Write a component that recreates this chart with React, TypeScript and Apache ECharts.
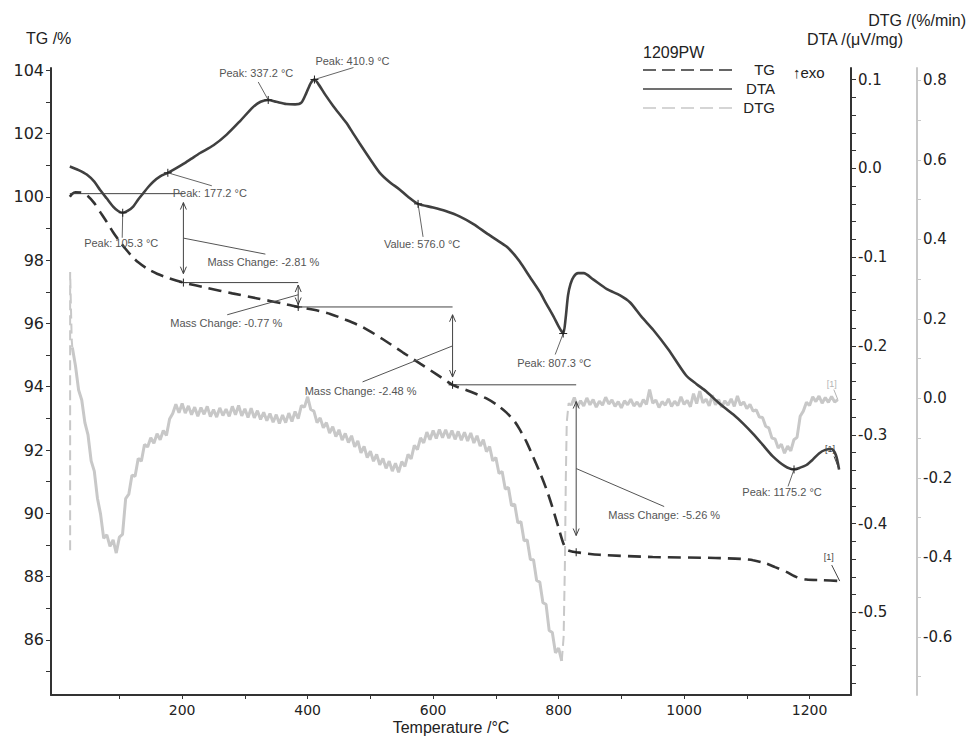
import React, { useEffect, useRef } from "react";
import * as echarts from "echarts";

// ---------------- data ----------------
// TG curve: [temperature °C, mass %]
const tgCurve: [number, number][] = [
  [21, 100.0], [25, 100.1], [30, 100.14], [40, 100.13], [50, 100.02], [60, 99.8], [70, 99.5], [80, 99.2],
  [90, 98.88], [100, 98.6], [110, 98.35], [120, 98.12], [130, 97.93], [145, 97.72], [160, 97.57], [180, 97.42],
  [202, 97.29], [240, 97.12], [280, 96.95], [320, 96.79], [360, 96.63], [385, 96.52], [410, 96.43], [436, 96.3],
  [460, 96.12], [488, 95.88], [520, 95.5], [552, 95.08], [580, 94.72], [605, 94.4], [631, 94.06], [660, 93.84],
  [685, 93.63], [702, 93.42], [717, 93.18], [730, 92.9], [738, 92.65], [749, 92.25], [759, 91.8], [770, 91.3],
  [781, 90.74], [790, 90.2], [796, 89.8], [802, 89.4], [807, 89.08], [811, 88.9], [815, 88.83], [828, 88.77],
  [865, 88.69], [950, 88.62], [1050, 88.59], [1090, 88.56], [1110, 88.52], [1130, 88.42], [1145, 88.3],
  [1163, 88.15], [1180, 87.98], [1195, 87.91], [1220, 87.89], [1248, 87.86],
];

// DTA curve: [temperature °C, µV/mg]
const dtaCurve: [number, number][] = [
  [21, 0.002], [35, -0.002], [48, -0.007], [60, -0.015], [69, -0.024], [80, -0.034], [90, -0.043], [98, -0.048],
  [105.3, -0.05], [113, -0.048], [122, -0.043], [130, -0.035], [138, -0.028], [146, -0.021], [154, -0.015],
  [165, -0.009], [177.2, -0.005], [190, 0.0], [202, 0.005], [215, 0.011], [228, 0.017], [250, 0.026], [271, 0.038],
  [292, 0.053], [313, 0.069], [325, 0.075], [337.2, 0.077], [350, 0.075], [366, 0.0725], [380, 0.072], [390, 0.074],
  [398, 0.085], [405, 0.096], [410.9, 0.1], [418, 0.094], [428, 0.083], [441, 0.07], [452, 0.06], [462, 0.051],
  [472, 0.04], [483, 0.028], [500, 0.01], [515, -0.005], [530, -0.015], [547, -0.024], [560, -0.032], [576, -0.04],
  [600, -0.044], [620, -0.048], [642, -0.054], [665, -0.063], [685, -0.073], [700, -0.08], [717, -0.088],
  [728, -0.096], [738, -0.105], [754, -0.122], [770, -0.139], [780, -0.152], [792, -0.167], [800, -0.178],
  [807.3, -0.186], [811, -0.17], [815, -0.143], [819, -0.13], [824, -0.122], [831, -0.118], [840, -0.118],
  [855, -0.125], [877, -0.136], [898, -0.143], [914, -0.151], [932, -0.167], [951, -0.182], [975, -0.204],
  [1003, -0.233], [1020, -0.243], [1035, -0.251], [1055, -0.264], [1078, -0.277], [1095, -0.288], [1110, -0.299],
  [1125, -0.311], [1141, -0.324], [1160, -0.335], [1175.2, -0.339], [1185, -0.337], [1195, -0.334], [1205, -0.328],
  [1215, -0.321], [1225, -0.317], [1235, -0.316], [1242, -0.323], [1247, -0.339],
];

// DTG (%/min): dashed start jump, noisy trace sampled every 5 °C, dashed rise, noisy trace to the end
const dtgStartJump: [number, number][] = [[21.5, -0.382], [21.5, 0.318], [24, 0.147], [25, 0.128]];
const dtgMainStartT = 25;
const dtgStepT = 5;
const dtgMainValues = [
  0.128, 0.082, 0.021, -0.004, -0.061, -0.092, -0.157, -0.183, -0.251, -0.291,
  -0.352, -0.343, -0.372, -0.356, -0.389, -0.349, -0.342, -0.252, -0.241, -0.193,
  -0.196, -0.151, -0.158, -0.116, -0.122, -0.099, -0.113, -0.089, -0.104, -0.081,
  -0.093, -0.052, -0.038, -0.015, -0.036, -0.013, -0.037, -0.019, -0.041, -0.022,
  -0.045, -0.023, -0.040, -0.020, -0.046, -0.028, -0.047, -0.024, -0.043, -0.027,
  -0.045, -0.020, -0.041, -0.018, -0.044, -0.026, -0.048, -0.025, -0.049, -0.031,
  -0.053, -0.035, -0.056, -0.038, -0.060, -0.041, -0.063, -0.042, -0.061, -0.037,
  -0.058, -0.033, -0.051, -0.018, -0.022, 0.004, -0.028, -0.032, -0.061, -0.049,
  -0.074, -0.061, -0.087, -0.071, -0.096, -0.079, -0.105, -0.088, -0.111, -0.094,
  -0.122, -0.107, -0.137, -0.121, -0.149, -0.133, -0.158, -0.141, -0.167, -0.151,
  -0.176, -0.158, -0.183, -0.163, -0.186, -0.159, -0.171, -0.141, -0.152, -0.118,
  -0.129, -0.099, -0.112, -0.085, -0.104, -0.081, -0.101, -0.078, -0.099, -0.079,
  -0.100, -0.081, -0.103, -0.083, -0.105, -0.085, -0.107, -0.087, -0.112, -0.094,
  -0.120, -0.104, -0.134, -0.121, -0.157, -0.149, -0.189, -0.184, -0.228, -0.224,
  -0.270, -0.266, -0.313, -0.310, -0.358, -0.356, -0.405, -0.406, -0.458, -0.462,
  -0.514, -0.518, -0.584, -0.589, -0.640, -0.628, -0.660,
];
const dtgRiseJump: [number, number][] = [
  [805, -0.66], [808, -0.6], [810, -0.42], [811.5, -0.2], [813, -0.06], [816, -0.012], [820, -0.018],
];
const dtgEndStartT = 820;
const dtgEndValues = [
  -0.018, 0.002, -0.021, -0.006, -0.019, 0.001, -0.016, -0.003, -0.022, -0.007,
  -0.017, 0.003, -0.014, -0.004, -0.020, -0.008, -0.024, -0.006, -0.016, -0.002,
  -0.019, -0.009, -0.021, -0.003, -0.015, 0.022, -0.012, -0.004, -0.023, -0.008,
  -0.017, -0.001, -0.020, -0.007, -0.018, 0.004, -0.015, -0.005, -0.021, 0.012,
  -0.013, 0.018, -0.011, -0.002, -0.019, 0.008, -0.016, -0.003, -0.022, -0.006,
  -0.017, -0.001, -0.020, 0.006, -0.017, -0.009, -0.026, -0.015, -0.032, -0.029,
  -0.047, -0.048, -0.070, -0.074, -0.100, -0.102, -0.125, -0.115, -0.138, -0.120,
  -0.132, -0.104, -0.098, -0.045, -0.032, -0.010, -0.018, 0.004, -0.008, 0.006,
  -0.012, 0.002, -0.010, 0.005, -0.009, -0.003,
];

// axis ticks / labels
const xTickValues = [100, 200, 300, 400, 500, 600, 700, 800, 900, 1000, 1100, 1200];
const xLabelValues = [200, 400, 600, 800, 1000, 1200];
const tgTickValues = [85, 86, 87, 88, 89, 90, 91, 92, 93, 94, 95, 96, 97, 98, 99, 100, 101, 102, 103, 104];
const tgLabelValues = [86, 88, 90, 92, 94, 96, 98, 100, 102, 104];
const dtaTickValues = [
  0.1, 0.08, 0.06, 0.04, 0.02, 0, -0.02, -0.04, -0.06, -0.08, -0.1, -0.12, -0.14, -0.16, -0.18, -0.2,
  -0.22, -0.24, -0.26, -0.28, -0.3, -0.32, -0.34, -0.36, -0.38, -0.4, -0.42, -0.44, -0.46, -0.48, -0.5,
  -0.52, -0.54, -0.56, -0.58,
];
const dtaLabelValues = [0.1, 0, -0.1, -0.2, -0.3, -0.4, -0.5];
const dtgTickValues = [0.8, 0.7, 0.6, 0.5, 0.4, 0.3, 0.2, 0.1, 0, -0.1, -0.2, -0.3, -0.4, -0.5, -0.6, -0.7];
const dtgLabelValues = [0.8, 0.6, 0.4, 0.2, 0, -0.2, -0.4, -0.6];

// DTA evaluations
const dtaEvents = [
  { t: 105.3, v: -0.05, text: "Peak: 105.3 °C" },
  { t: 177.2, v: -0.005, text: "Peak: 177.2 °C" },
  { t: 337.2, v: 0.077, text: "Peak: 337.2 °C" },
  { t: 410.9, v: 0.1, text: "Peak: 410.9 °C" },
  { t: 576.0, v: -0.04, text: "Value: 576.0 °C" },
  { t: 807.3, v: -0.186, text: "Peak: 807.3 °C" },
  { t: 1175.2, v: -0.339, text: "Peak: 1175.2 °C" },
];
// TG mass-change step points
const massSteps = [
  { t: 21, tg: 100.1 },
  { t: 202, tg: 97.29 },
  { t: 385, tg: 96.52 },
  { t: 631, tg: 94.06 },
  { t: 828, tg: 88.77 },
];
const massLabels = ["Mass Change: -2.81 %", "Mass Change: -0.77 %", "Mass Change: -2.48 %", "Mass Change: -5.26 %"];

// ---------------- layout (pixel offsets of labels) ----------------
const dtaEventLayout = [
  { lx: -0.5, ly: 25, tx: -1.5, ty: 30 },
  { lx: 44, ly: 13, tx: 42, ty: 20 },
  { lx: -10, ly: -18, tx: -12, ty: -27 },
  { lx: 39, ly: -12, tx: 38, ty: -19 },
  { lx: 5, ly: 33, tx: 4, ty: 40 },
  { lx: -8, ly: 21, tx: -9, ty: 29 },
  { lx: -6, ly: 17, tx: -12, ty: 23 },
];
const massLayout = [
  { lx: 82, ly: 16, tx: 80, ty: 24 },
  { lx: -71, ly: 20, tx: -72, ty: 28 },
  { lx: -90, ly: 36, tx: -92, ty: 45 },
  { lx: 88, ly: 38, tx: 88, ty: 46 },
];

const NUM_FONT = '"DejaVu Sans", sans-serif';
const TXT_FONT = '"Liberation Sans", Arial, sans-serif';
const DARK = "#333333";
const DTA_COLOR = "#404040";
const DTG_COLOR = "#c8c8c8";

function fmt1(v: number) {
  const s = v.toFixed(1);
  return s === "-0.0" ? "0.0" : s;
}

function buildOption(): any {
  const dtgMain = dtgMainValues.map((v, i) => [dtgMainStartT + i * dtgStepT, v]);
  const dtgEnd = dtgEndValues.map((v, i) => [dtgEndStartT + i * dtgStepT, v]);
  const yBase = {
    type: "value",
    splitLine: { show: false },
    axisLine: { show: true, onZero: false },
  };
  return {
    animation: false,
    backgroundColor: "#ffffff",
    grid: { left: 51, right: 117, top: 68, bottom: 41, containLabel: false, outerBoundsMode: "none" },
    xAxis: {
      type: "value",
      min: -9,
      max: 1266,
      splitLine: { show: false },
      axisLine: { show: true, onZero: false, lineStyle: { color: DARK, width: 2 } },
      axisTick: { show: true, customValues: xTickValues, length: 4, lineStyle: { color: DARK, width: 1 } },
      axisLabel: {
        customValues: xLabelValues,
        formatter: (v: number) => String(Math.round(v)),
        color: "#222",
        fontFamily: NUM_FONT,
        fontSize: 14,
        margin: 8,
      },
    },
    yAxis: [
      {
        ...yBase,
        position: "left",
        min: 84.26,
        max: 104.07,
        axisLine: { show: true, onZero: false, lineStyle: { color: DARK, width: 2 } },
        axisTick: { show: true, customValues: tgTickValues, length: 5, lineStyle: { color: DARK, width: 1 } },
        axisLabel: {
          customValues: tgLabelValues,
          formatter: (v: number) => String(Math.round(v)),
          color: "#222",
          fontFamily: NUM_FONT,
          fontSize: 16,
          margin: 7,
        },
      },
      {
        ...yBase,
        position: "right",
        offset: 0,
        min: -0.593,
        max: 0.113,
        axisLine: { show: true, onZero: false, lineStyle: { color: DARK, width: 2 } },
        axisTick: { show: true, customValues: dtaTickValues, length: 5, lineStyle: { color: DARK, width: 1 } },
        axisLabel: {
          customValues: dtaLabelValues,
          formatter: (v: number) => fmt1(v),
          color: "#222",
          fontFamily: NUM_FONT,
          fontSize: 15,
          margin: 7,
        },
      },
      {
        ...yBase,
        position: "right",
        offset: 66,
        min: -0.746,
        max: 0.831,
        axisLine: { show: true, onZero: false, lineStyle: { color: DTG_COLOR, width: 2 } },
        axisTick: { show: true, customValues: dtgTickValues, length: 4, lineStyle: { color: DTG_COLOR, width: 1 } },
        axisLabel: {
          customValues: dtgLabelValues,
          formatter: (v: number) => fmt1(v),
          color: "#222",
          fontFamily: NUM_FONT,
          fontSize: 15,
          margin: 6,
        },
      },
    ],
    series: [
      {
        name: "TG",
        type: "line",
        yAxisIndex: 0,
        data: tgCurve,
        smooth: 0.25,
        showSymbol: false,
        z: 5,
        lineStyle: { color: DARK, width: 2.6, type: [13, 7] },
      },
      {
        name: "DTA",
        type: "line",
        yAxisIndex: 1,
        data: dtaCurve,
        smooth: 0.25,
        showSymbol: false,
        z: 5,
        lineStyle: { color: DTA_COLOR, width: 2.6 },
      },
      {
        name: "DTG",
        type: "line",
        yAxisIndex: 2,
        data: dtgMain,
        showSymbol: false,
        z: 2,
        lineStyle: { color: DTG_COLOR, width: 3 },
      },
      {
        name: "DTG end",
        type: "line",
        yAxisIndex: 2,
        data: dtgEnd,
        showSymbol: false,
        z: 2,
        lineStyle: { color: DTG_COLOR, width: 3 },
      },
      {
        name: "DTG start",
        type: "line",
        yAxisIndex: 2,
        data: dtgStartJump,
        showSymbol: false,
        z: 2,
        lineStyle: { color: DTG_COLOR, width: 2, type: [10, 5] },
      },
      {
        name: "DTG rise",
        type: "line",
        yAxisIndex: 2,
        data: dtgRiseJump,
        showSymbol: false,
        z: 2,
        lineStyle: { color: DTG_COLOR, width: 2, type: [10, 5] },
      },
    ],
  };
}

function buildGraphics(chart: any): any[] {
  const g: any[] = [];
  const P = (s: number, t: number, v: number) => chart.convertToPixel({ seriesIndex: s }, [t, v]) as number[];
  const line = (x1: number, y1: number, x2: number, y2: number, stroke = "#555", w = 1, dash?: number[]) =>
    g.push({
      type: "line",
      silent: true,
      z: 100,
      shape: { x1, y1, x2, y2 },
      style: { stroke, lineWidth: w, lineDash: dash },
    });
  const poly = (points: number[][], stroke = "#444") =>
    g.push({ type: "polyline", silent: true, z: 100, shape: { points }, style: { stroke, lineWidth: 1, fill: null } });
  const text = (
    x: number,
    y: number,
    t: string,
    size = 11,
    fill = "#555",
    align = "center",
    family = TXT_FONT
  ) =>
    g.push({
      type: "text",
      silent: true,
      z: 101,
      x,
      y,
      style: { text: t, fill, fontSize: size, fontFamily: family, align, verticalAlign: "middle" },
    });
  const cross = (x: number, y: number) => {
    line(x - 4, y, x + 4, y, "#222", 1);
    line(x, y - 4, x, y + 4, "#222", 1);
  };
  const arrow = (x: number, yTop: number, yBot: number) => {
    line(x, yTop, x, yBot, "#444", 1);
    poly([[x - 3, yTop + 7], [x, yTop], [x + 3, yTop + 7]]);
    poly([[x - 3, yBot - 7], [x, yBot], [x + 3, yBot - 7]]);
  };

  // titles
  text(26, 38, "TG /%", 16, "#222", "left");
  text(903, 39, "DTA /(μV/mg)", 16, "#222", "right");
  text(966, 20, "DTG /(%/min)", 16, "#222", "right");
  text(451, 727, "Temperature /°C", 16, "#222", "center");

  // legend
  text(643, 52, "1209PW", 16, "#222", "left");
  line(643, 70, 732, 70, DARK, 1.5, [13, 6]);
  line(643, 89, 732, 89, DTA_COLOR, 1.5);
  line(643, 108, 732, 108, DTG_COLOR, 1.5, [13, 6]);
  text(775, 69, "TG", 15, "#222", "right");
  text(775, 88, "DTA", 15, "#222", "right");
  text(775, 107, "DTG", 15, "#222", "right");
  text(793, 72, "↑exo", 15, "#222", "left");

  // DTA evaluations
  dtaEvents.forEach((e, i) => {
    const [x, y] = P(1, e.t, e.v);
    const o = dtaEventLayout[i];
    line(x, y, x + o.lx, y + o.ly, "#666", 1);
    cross(x, y);
    text(x + o.tx, y + o.ty, e.text);
  });

  // mass changes
  for (let i = 1; i < massSteps.length; i++) {
    const a = massSteps[i - 1];
    const b = massSteps[i];
    const [xa, ya] = P(0, a.t, a.tg);
    const [xb, yb] = P(0, b.t, b.tg);
    line(xa, ya, xb, ya, "#444", 1);
    const span = yb - ya;
    arrow(xb, ya + span * 0.1, yb - span * 0.1);
    const my = (ya + yb) / 2;
    const o = massLayout[i - 1];
    line(xb, my, xb + o.lx, my + o.ly, "#555", 1);
    cross(xb, yb);
    text(xb + o.tx, my + o.ty, massLabels[i - 1]);
  }

  // curve end markers "[1]"
  const tgEnd = tgCurve[tgCurve.length - 1];
  const dtaEnd = dtaCurve[dtaCurve.length - 1];
  const dtgEndT = dtgEndStartT + (dtgEndValues.length - 1) * dtgStepT;
  const dtgEndV = dtgEndValues[dtgEndValues.length - 1];
  const ends = [
    { p: P(0, tgEnd[0], tgEnd[1]), c: "#444", lx: -8, ly: -16, tx: -11, ty: -24 },
    { p: P(1, dtaEnd[0], dtaEnd[1]), c: "#444", lx: -5, ly: -13, tx: -9, ty: -20 },
    { p: P(2, dtgEndT, dtgEndV), c: "#b4b4b4", lx: -4, ly: -10, tx: -6, ty: -16 },
  ];
  ends.forEach((e) => {
    const [x, y] = e.p;
    line(x, y, x + e.lx, y + e.ly, e.c, 1);
    text(x + e.tx, y + e.ty, "[1]", 9, e.c);
  });
  return g;
}

export default function App() {
  const ref = useRef<HTMLDivElement>(null);
  useEffect(() => {
    if (!ref.current) return;
    const chart = echarts.init(ref.current, null, { renderer: "svg" });
    chart.setOption(buildOption());
    chart.setOption({ graphic: buildGraphics(chart) });
    return () => chart.dispose();
  }, []);
  return (
    <div
      ref={ref}
      style={{ position: "fixed", left: 0, top: 0, width: 968, height: 736, background: "#ffffff" }}
    />
  );
}
